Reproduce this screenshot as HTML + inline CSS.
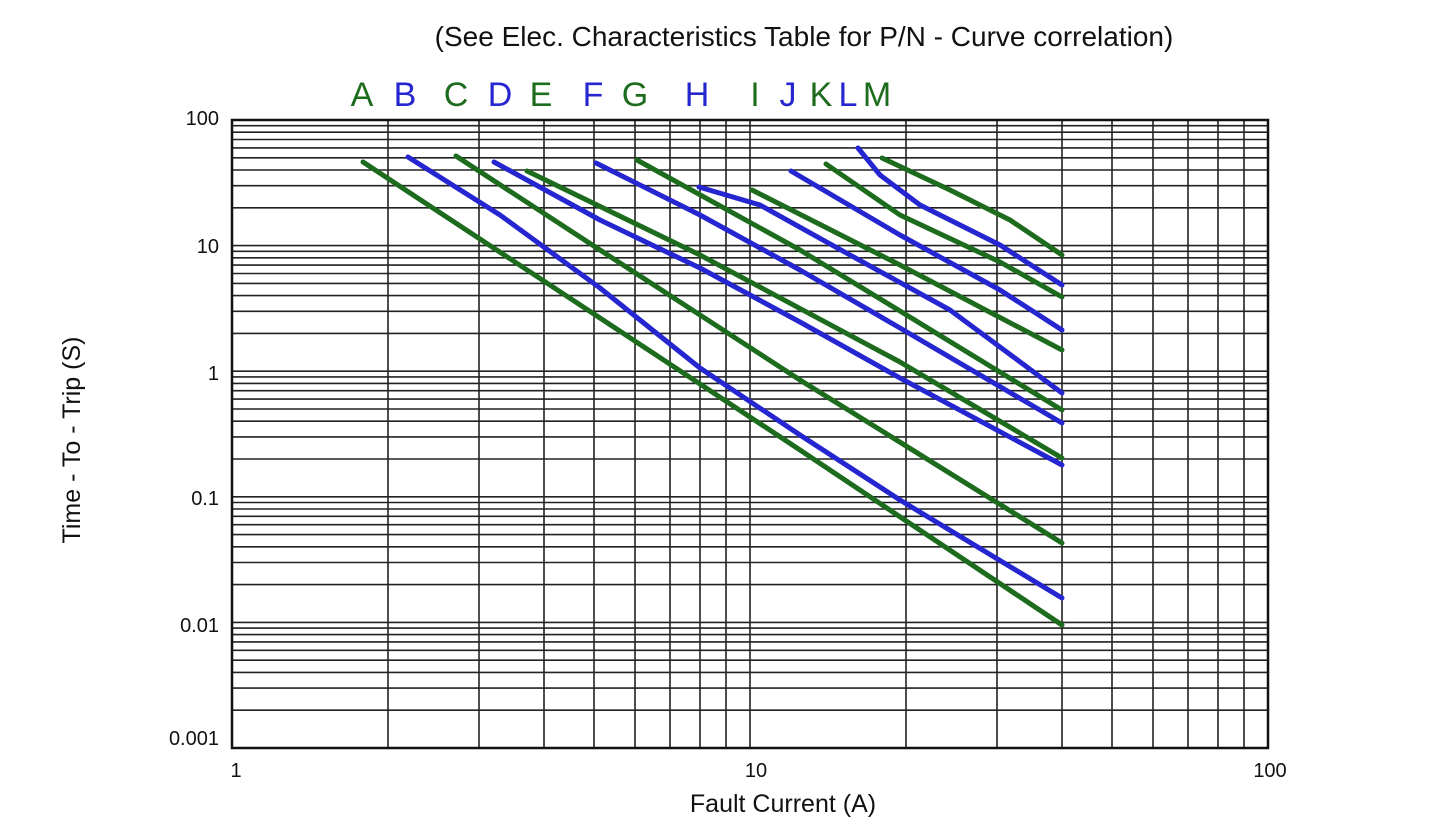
<!DOCTYPE html>
<html><head><meta charset="utf-8"><style>
html,body{margin:0;padding:0;background:#fff;}
svg{display:block;font-family:"Liberation Sans",Arial,sans-serif;}
</style></head><body>
<svg width="1435" height="828" viewBox="0 0 1435 828" xmlns="http://www.w3.org/2000/svg">
<rect width="1435" height="828" fill="#fff"/>
<path stroke="#222" stroke-width="1.6" fill="none" d="
M388 120V748 M479 120V748 M544 120V748 M594 120V748 M635 120V748 M670 120V748 M700 120V748 M726 120V748 M750 120V748
M906 120V748 M997 120V748 M1062 120V748 M1112 120V748 M1153 120V748 M1188 120V748 M1218 120V748 M1244 120V748
M232 710.2H1268 M232 688.1H1268 M232 672.4H1268 M232 660.2H1268 M232 650.3H1268 M232 641.9H1268 M232 634.6H1268 M232 628.1H1268 M232 622.4H1268
M232 584.6H1268 M232 562.5H1268 M232 546.8H1268 M232 534.6H1268 M232 524.7H1268 M232 516.3H1268 M232 509H1268 M232 502.5H1268 M232 496.8H1268
M232 459H1268 M232 436.9H1268 M232 421.2H1268 M232 409H1268 M232 399.1H1268 M232 390.7H1268 M232 383.4H1268 M232 376.9H1268 M232 371.2H1268
M232 333.4H1268 M232 311.3H1268 M232 295.6H1268 M232 283.4H1268 M232 273.5H1268 M232 265.1H1268 M232 257.8H1268 M232 251.3H1268 M232 245.6H1268
M232 207.8H1268 M232 185.7H1268 M232 170H1268 M232 157.8H1268 M232 147.9H1268 M232 139.5H1268 M232 132.2H1268 M232 125.7H1268"/>
<rect x="232" y="120" width="1036" height="628" fill="none" stroke="#111" stroke-width="2.5"/>
<g font-size="20" fill="#111" text-anchor="end">
<text x="219" y="125">100</text>
<text x="219" y="253">10</text>
<text x="219" y="380">1</text>
<text x="219" y="505">0.1</text>
<text x="219" y="632">0.01</text>
<text x="219" y="745">0.001</text>
</g>
<g font-size="20" fill="#111" text-anchor="middle">
<text x="236" y="777">1</text>
<text x="756" y="777">10</text>
<text x="1270" y="777">100</text>
</g>
<text x="783" y="812" font-size="25" text-anchor="middle" fill="#111">Fault Current (A)</text>
<text transform="translate(80,440) rotate(-90)" font-size="25" text-anchor="middle" fill="#111">Time - To - Trip (S)</text>
<text x="804" y="46" font-size="28" text-anchor="middle" fill="#111">(See Elec. Characteristics Table for P/N - Curve correlation)</text>
<g font-size="34" text-anchor="middle">
<text x="362" y="106" fill="#1d6b1d">A</text>
<text x="405" y="106" fill="#2626d0">B</text>
<text x="456" y="106" fill="#1d6b1d">C</text>
<text x="500" y="106" fill="#2626d0">D</text>
<text x="541" y="106" fill="#1d6b1d">E</text>
<text x="593" y="106" fill="#2626d0">F</text>
<text x="635" y="106" fill="#1d6b1d">G</text>
<text x="697" y="106" fill="#2626d0">H</text>
<text x="755" y="106" fill="#1d6b1d">I</text>
<text x="788" y="106" fill="#2626d0">J</text>
<text x="821" y="106" fill="#1d6b1d">K</text>
<text x="848" y="106" fill="#2626d0">L</text>
<text x="877" y="106" fill="#1d6b1d">M</text>
</g>
<g fill="none" stroke-width="5" stroke-linecap="round" stroke-linejoin="round">
<polyline stroke="#1d6b1d" points="363,162 600,318 800,450 1062,625"/>
<polyline stroke="#2626d0" points="408,157 500,215 600,288 700,368 800,435 900,500 1062,598"/>
<polyline stroke="#1d6b1d" points="456,156 600,250 800,380 1062,543"/>
<polyline stroke="#2626d0" points="494,162 600,220 700,268 800,322 900,378 1062,465"/>
<polyline stroke="#1d6b1d" points="527,171 700,255 900,362 1062,458"/>
<polyline stroke="#2626d0" points="596,163 700,215 800,270 900,328 1062,423"/>
<polyline stroke="#1d6b1d" points="637,160 800,250 1062,410"/>
<polyline stroke="#2626d0" points="699,187 760,205 850,255 950,310 1062,393"/>
<polyline stroke="#1d6b1d" points="752,190 900,265 1062,350"/>
<polyline stroke="#2626d0" points="791,171 900,235 1000,290 1062,330"/>
<polyline stroke="#1d6b1d" points="826,164 900,215 1000,262 1062,297"/>
<polyline stroke="#2626d0" points="858,148 880,175 920,205 1000,245 1062,285"/>
<polyline stroke="#1d6b1d" points="882,158 950,190 1010,220 1062,255"/>
</g>
</svg>
</body></html>
